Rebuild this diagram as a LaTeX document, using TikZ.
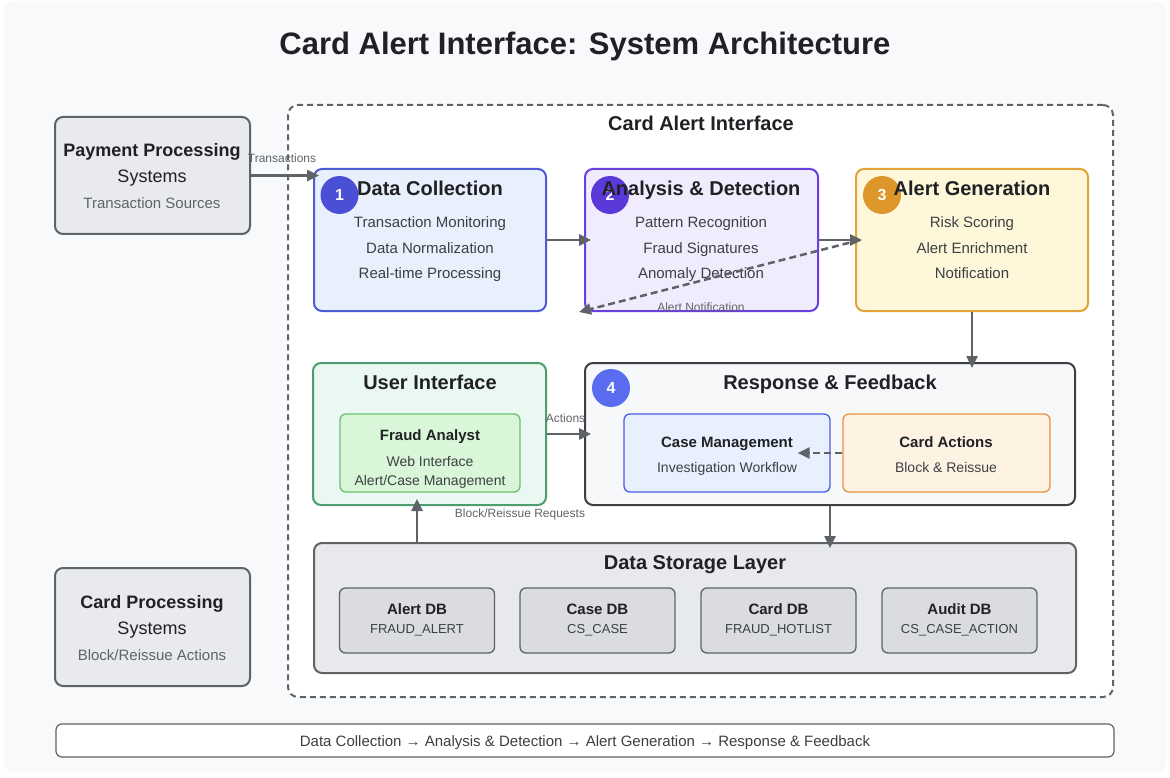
\documentclass[tikz,border=0pt]{standalone}
\usepackage{fontspec}
\setmainfont{Liberation Sans}
\usetikzlibrary{arrows.meta,calc}
\definecolor{pagebg}{HTML}{F8F9FA}
\definecolor{linegray}{HTML}{5F6368}
\definecolor{boxgray}{HTML}{E8EAED}
\definecolor{dbgray}{HTML}{DADCE0}
\definecolor{txtdark}{HTML}{202124}
\definecolor{txtbody}{HTML}{3C4043}
\definecolor{dcfill}{HTML}{E8F0FE}
\definecolor{dcline}{HTML}{4F5BD5}
\definecolor{dcdot}{HTML}{4A4FD6}
\definecolor{adfill}{HTML}{F1ECFD}
\definecolor{adline}{HTML}{6A3FE0}
\definecolor{addot}{HTML}{5B38D9}
\definecolor{agfill}{HTML}{FEF7D9}
\definecolor{agline}{HTML}{E3A23A}
\definecolor{agdot}{HTML}{DC962A}
\definecolor{uifill}{HTML}{E9F8F1}
\definecolor{uiline}{HTML}{4F9D6E}
\definecolor{fafill}{HTML}{D9F6D8}
\definecolor{faline}{HTML}{6CC16F}
\definecolor{rffill}{HTML}{F7F8FA}
\definecolor{rfline}{HTML}{3C4043}
\definecolor{rfdot}{HTML}{5B6CF0}
\definecolor{cmline}{HTML}{4A5DE8}
\definecolor{cafill}{HTML}{FEF3E3}
\definecolor{caline}{HTML}{E8923F}
\definecolor{dsfill}{HTML}{E8E9EC}

\begin{document}
\begin{tikzpicture}[x=1pt,y=-1pt,
    box/.style={draw, rounded corners=8pt, line width=2pt, inner sep=0pt},
    subbox/.style={draw, rounded corners=6pt, line width=1.3pt, inner sep=0pt},
    txt/.style={inner sep=0pt, text depth=0pt},
    ttl/.style={txt, text height=22.3pt, font=\fontsize{31}{35}\selectfont\bfseries, text=txtdark},
    hd/.style={txt, text height=14.4pt, font=\fontsize{20}{24}\selectfont\bfseries, text=txtdark},
    exthd/.style={txt, text height=13pt, font=\fontsize{18}{22}\selectfont\bfseries, text=txtdark},
    extln/.style={txt, text height=13pt, font=\fontsize{18}{22}\selectfont, text=txtdark},
    ln/.style={txt, text height=10.8pt, font=\fontsize{15}{18}\selectfont, text=txtbody},
    smallhd/.style={txt, text height=10.8pt, font=\fontsize{15}{18}\selectfont\bfseries, text=txtdark},
    smallln/.style={txt, text height=10pt, font=\fontsize{14}{17}\selectfont, text=txtbody},
    greyln/.style={txt, text height=10.8pt, font=\fontsize{15}{18}\selectfont, text=linegray},
    dbln/.style={txt, text height=9.4pt, font=\fontsize{13}{16}\selectfont, text=txtbody},
    lbl/.style={txt, text height=8.6pt, font=\fontsize{12}{14}\selectfont, text=linegray},
    badge/.style={circle, minimum size=38pt, inner sep=0pt, text=white, font=\fontsize{16}{18}\selectfont\bfseries},
    arr/.style={draw=linegray, line width=2.5pt, -{Triangle[length=12pt,width=11pt]}, shorten >=-6pt},
    arrdash/.style={arr, dash pattern=on 7pt off 4pt}]
  \useasboundingbox (0,0) rectangle (1170,778);
  % Page background
  \fill[white] (0,0) rectangle (1170,778);
  \fill[pagebg, rounded corners=10pt] (4,1) rectangle (1166,772);
  % Title
  \node[ttl] (title) at (585,43) {Card Alert Interface: System Architecture};
  % Card Alert Interface container
  \node[draw=linegray, fill=white, line width=2pt, dash pattern=on 6pt off 4pt, rounded corners=10pt,
        minimum width=825pt, minimum height=592pt] (cai) at (700.5,401) {};
  \node[hd] (caitxt) at (701,123) {Card Alert Interface};
  % External systems
  \node[box, draw=linegray, fill=boxgray, minimum width=195pt, minimum height=117pt] (pay) at (152.5,175.5) {};
  \node[exthd] (paytxt) at (152,150) {Payment Processing};
  \node[extln] (paysys) at (152,176) {Systems};
  \node[greyln] (paysrc) at (152,203) {Transaction Sources};
  \node[box, draw=linegray, fill=boxgray, minimum width=195pt, minimum height=118pt] (cps) at (152.5,627) {};
  \node[exthd] (cpstxt) at (152,602) {Card Processing};
  \node[extln] (cpssys) at (152,628) {Systems};
  \node[greyln] (cpsact) at (152,655) {Block/Reissue Actions};
  % Stage 1: Data Collection
  \node[box, draw=dcline, fill=dcfill, minimum width=232pt, minimum height=142pt] (dc) at (430,240) {};
  \node[badge, fill=dcdot] (b1) at (339.5,195) {1};
  \node[hd] (dctxt) at (430,188) {Data Collection};
  \node[ln] (dc1) at (430,222) {Transaction Monitoring};
  \node[ln] (dc2) at (430,248) {Data Normalization};
  \node[ln] (dc3) at (430,273) {Real-time Processing};
  % Stage 2: Analysis & Detection
  \node[box, draw=adline, fill=adfill, minimum width=233pt, minimum height=142pt] (ad) at (701.5,240) {};
  \node[badge, fill=addot] (b2) at (610,195) {2};
  \node[hd] (adtxt) at (701,188) {Analysis \& Detection};
  \node[ln] (ad1) at (701,222) {Pattern Recognition};
  \node[ln] (ad2) at (701,248) {Fraud Signatures};
  \node[ln] (ad3) at (701,273) {Anomaly Detection};
  % Stage 3: Alert Generation
  \node[box, draw=agline, fill=agfill, minimum width=232pt, minimum height=142pt] (ag) at (972,240) {};
  \node[badge, fill=agdot] (b3) at (882,195) {3};
  \node[hd] (agtxt) at (972,188) {Alert Generation};
  \node[ln] (ag1) at (972,222) {Risk Scoring};
  \node[ln] (ag2) at (972,248) {Alert Enrichment};
  \node[ln] (ag3) at (972,273) {Notification};
  % User Interface
  \node[box, draw=uiline, fill=uifill, minimum width=233pt, minimum height=142pt] (ui) at (429.5,434) {};
  \node[hd] (uitxt) at (430,382) {User Interface};
  \node[subbox, draw=faline, fill=fafill, minimum width=180pt, minimum height=78pt] (fa) at (430,453) {};
  \node[smallhd] (fatxt) at (430,435) {Fraud Analyst};
  \node[smallln] (fa1) at (430,461) {Web Interface};
  \node[smallln] (fa2) at (430,480) {Alert/Case Management};
  % Stage 4: Response & Feedback
  \node[box, draw=rfline, fill=rffill, minimum width=490pt, minimum height=142pt] (rf) at (830,434) {};
  \node[badge, fill=rfdot] (b4) at (611,388) {4};
  \node[hd] (rftxt) at (830,382) {Response \& Feedback};
  \node[subbox, draw=cmline, fill=dcfill, minimum width=206pt, minimum height=78pt] (cm) at (727,453) {};
  \node[smallhd] (cmtxt) at (727,442) {Case Management};
  \node[smallln] (cm1) at (727,467) {Investigation Workflow};
  \node[subbox, draw=caline, fill=cafill, minimum width=207pt, minimum height=78pt] (ca) at (946.5,453) {};
  \node[smallhd] (catxt) at (946,442) {Card Actions};
  \node[smallln] (ca1) at (946,467) {Block \& Reissue};
  % Data Storage Layer
  \node[box, draw=linegray, fill=dsfill, minimum width=762pt, minimum height=130pt] (ds) at (695,608) {};
  \node[hd] (dstxt) at (695,562) {Data Storage Layer};
  \node[subbox, draw=linegray, fill=dbgray, minimum width=155pt, minimum height=65pt] (adb) at (417,620.5) {};
  \node[smallhd] (adbtxt) at (417,609) {Alert DB};
  \node[dbln] (adbtbl) at (417,629) {FRAUD\_ALERT};
  \node[subbox, draw=linegray, fill=dbgray, minimum width=155pt, minimum height=65pt] (cdb) at (597.5,620.5) {};
  \node[smallhd] (cdbtxt) at (597.5,609) {Case DB};
  \node[dbln] (cdbtbl) at (597.5,629) {CS\_CASE};
  \node[subbox, draw=linegray, fill=dbgray, minimum width=155pt, minimum height=65pt] (kdb) at (778.5,620.5) {};
  \node[smallhd] (kdbtxt) at (778.5,609) {Card DB};
  \node[dbln] (kdbtbl) at (778.5,629) {FRAUD\_HOTLIST};
  \node[subbox, draw=linegray, fill=dbgray, minimum width=155pt, minimum height=65pt] (udb) at (959.5,620.5) {};
  \node[smallhd] (udbtxt) at (959.5,609) {Audit DB};
  \node[dbln] (udbtbl) at (959.5,629) {CS\_CASE\_ACTION};
  % Flow summary bar
  \node[draw=linegray, fill=white, line width=1.2pt, rounded corners=6pt, minimum width=1058pt, minimum height=33pt] (bar) at (585,740.5) {};
  \node[ln] (bartxt) at (585,741) {Data Collection → Analysis \& Detection → Alert Generation → Response \& Feedback};
  % Connectors
  \draw[arr] (pay.east) -- (pay.east -| dc.west) node[lbl, midway, yshift=17pt] (trlbl) {Transactions};
  \draw[arr, shorten >=-7pt] (dc.east) -- (ad.west);
  \draw[arr, shorten >=-7pt] (ad.east) -- (ag.west);
  \coordinate (notif) at (579,312);
  \draw[arrdash, shorten >=0pt] ($(ag.west)+(5,0)$) -- (notif);
  \node[lbl] (notiflbl) at (701,307) {Alert Notification};
  \draw[arr] (ag.south) -- (ag.south |- rf.north);
  \draw[arr, shorten >=-7pt] (ui.east) -- (rf.west) node[lbl, midway, yshift=16pt] (actlbl) {Actions};
  \draw[arrdash, shorten >=-33pt] (ca.west) -- (cm.east);
  \draw[arr] (rf.south) -- (rf.south |- ds.north);
  \draw[arr, shorten >=-7pt] (adb.north |- ds.north) -- (adb.north |- ui.south);
  \node[lbl] (reqlbl) at (520,513) {Block/Reissue Requests};
\end{tikzpicture}
\end{document}
